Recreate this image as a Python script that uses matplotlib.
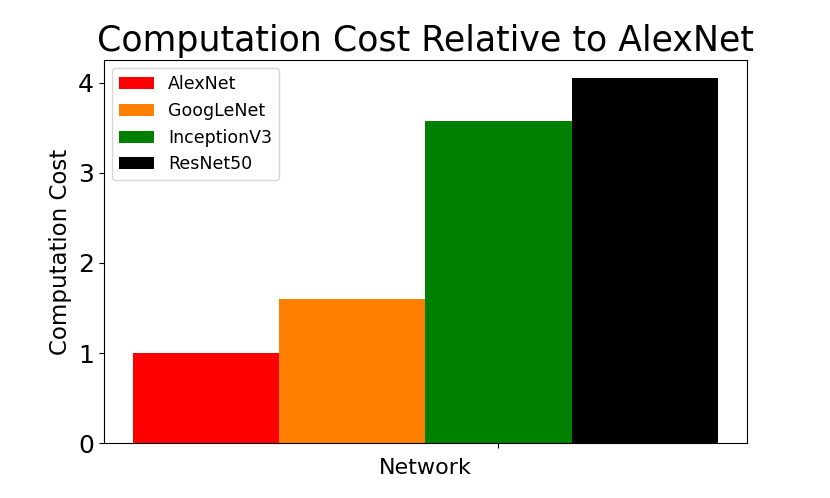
import matplotlib
matplotlib.use("Agg")
import matplotlib.pyplot as plt

networks = ["AlexNet", "GoogLeNet", "InceptionV3", "ResNet50"]
costs = [1.0, 1.6, 3.57, 4.05]
colors = ["red", "#ff8000", "green", "black"]

fig, ax = plt.subplots(figsize=(8.3, 4.98), dpi=100)
for i, (name, cost, color) in enumerate(zip(networks, costs, colors)):
    ax.bar(i, cost, width=1.0, color=color, label=name)

ax.set_xticks([2])
ax.set_xticklabels([""])
ax.tick_params(axis="y", labelsize=18)
ax.set_xlabel("Network", fontsize=16)
ax.set_ylabel("Computation Cost", fontsize=16.5)
ax.set_title("Computation Cost Relative to AlexNet", fontsize=25)
ax.legend(loc="upper left", fontsize=12.5)

fig.savefig("out.png")
